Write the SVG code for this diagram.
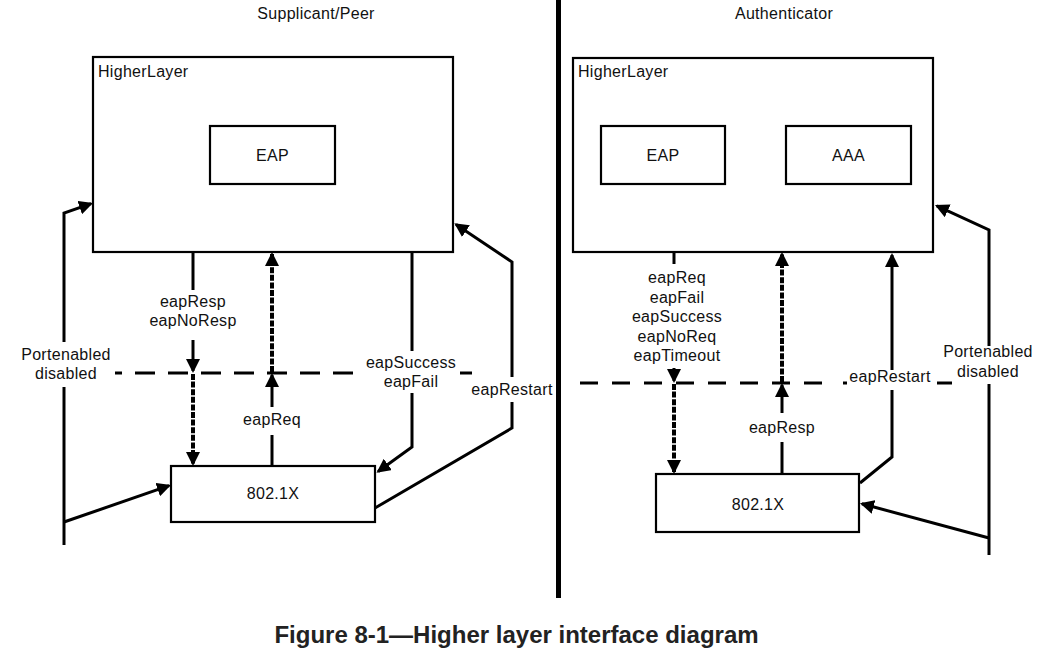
<svg xmlns="http://www.w3.org/2000/svg" width="1046" height="661" viewBox="0 0 1046 661">
<style>
.box{fill:#fff;stroke:#000;stroke-width:2.2}
.t{font-family:"Liberation Sans",Arial,sans-serif;font-size:16px;fill:#111;letter-spacing:0.3px}
.m{text-anchor:middle}
.ln{fill:none;stroke:#000;stroke-width:3}
.dot{fill:none;stroke:#000;stroke-width:4;stroke-dasharray:6 1.6}
.dash{fill:none;stroke:#000;stroke-width:3}
.cap{font-family:"Liberation Sans",Arial,sans-serif;font-size:24px;font-weight:bold;fill:#222;text-anchor:middle}
</style>
<defs>
<marker id="ah" viewBox="0 0 14 14" refX="12" refY="7" markerWidth="14" markerHeight="14" markerUnits="userSpaceOnUse" orient="auto">
<path d="M0,0 L14,7 L0,14 z" fill="#000"/>
</marker>
</defs>
<rect width="1046" height="661" fill="#fff"/>

<text class="t m" x="316" y="19">Supplicant/Peer</text>
<text class="t m" x="784" y="19">Authenticator</text>
<rect id="divider" x="556" y="0" width="5" height="598" fill="#000"/>

<g id="sup-higherlayer">
<rect class="box" x="93" y="57" width="360" height="195"/>
<text class="t" x="98" y="77">HigherLayer</text>
</g>
<g id="sup-eap">
<rect class="box" x="210" y="126" width="125" height="58"/>
<text class="t m" x="272.5" y="161">EAP</text>
</g>
<g id="sup-8021x">
<rect class="box" x="171" y="466" width="204" height="56"/>
<text class="t m" x="273" y="499">802.1X</text>
</g>

<g id="auth-higherlayer">
<rect class="box" x="573" y="58" width="360" height="194"/>
<text class="t" x="578" y="77">HigherLayer</text>
</g>
<g id="auth-eap">
<rect class="box" x="601" y="126" width="124" height="58"/>
<text class="t m" x="663" y="161">EAP</text>
</g>
<g id="auth-aaa">
<rect class="box" x="786" y="126" width="125" height="58"/>
<text class="t m" x="848.5" y="161">AAA</text>
</g>
<g id="auth-8021x">
<rect class="box" x="656" y="474" width="203" height="58"/>
<text class="t m" x="758" y="510">802.1X</text>
</g>

<g id="connectors">
<!-- left dashed boundary -->
<path class="dash" d="M115,373 H358" stroke-dasharray="20 13" stroke-dashoffset="13"/>
<path class="dash" d="M460,373 H472"/>
<!-- right dashed boundary -->
<path class="dash" d="M580,383 H822" stroke-dasharray="18 14"/>
<path class="dash" d="M843,383 H847"/>
<path class="dash" d="M937,383 H952"/>

<!-- supplicant Portenabled -->
<path class="ln" d="M64,545 V387"/>
<path class="ln" d="M64,342 V213 L91.1,203.7" marker-end="url(#ah)"/>
<path class="ln" d="M64,522 L169.1,485.7" marker-end="url(#ah)"/>
<!-- eapResp/eapNoResp -->
<path class="ln" d="M193,252 V290"/>
<path class="ln" d="M193,340 V371" marker-end="url(#ah)"/>
<path class="dot" d="M193,374 V464" marker-end="url(#ah)"/>
<!-- eapReq -->
<path class="ln" d="M272,466 V435"/>
<path class="ln" d="M272,407 V375" marker-end="url(#ah)"/>
<path class="dot" d="M272,372 V254" marker-end="url(#ah)"/>
<!-- eapSuccess/eapFail -->
<path class="ln" d="M412,252 V351"/>
<path class="ln" d="M412,393 V447 L378.1,471.5" marker-end="url(#ah)"/>
<!-- eapRestart -->
<path class="ln" d="M375,508 L512,428 V402"/>
<path class="ln" d="M512,377 V262 L456,224.4" marker-end="url(#ah)"/>

<!-- authenticator eapReq etc -->
<path class="ln" d="M674,252 V264"/>
<path class="ln" d="M674,368 V381" marker-end="url(#ah)"/>
<path class="dot" d="M674,384 V472" marker-end="url(#ah)"/>
<!-- eapResp -->
<path class="ln" d="M782,474 V442"/>
<path class="ln" d="M782,413 V385" marker-end="url(#ah)"/>
<path class="dot" d="M782,382 V254" marker-end="url(#ah)"/>
<!-- eapRestart -->
<path class="ln" d="M860,483 L892,457 V390"/>
<path class="ln" d="M892,370 V255" marker-end="url(#ah)"/>
<!-- Portenabled -->
<path class="ln" d="M989,555 V384"/>
<path class="ln" d="M989,346 V230 L936.8,205.8" marker-end="url(#ah)"/>
<path class="ln" d="M989,538 L861.9,503.8" marker-end="url(#ah)"/>
</g>

<g id="labels">
<text class="t m" x="193" y="307">eapResp</text>
<text class="t m" x="193" y="326">eapNoResp</text>
<text class="t m" x="66" y="360">Portenabled</text>
<text class="t m" x="66" y="379">disabled</text>
<text class="t m" x="272" y="425">eapReq</text>
<text class="t m" x="411" y="368">eapSuccess</text>
<text class="t m" x="411" y="387">eapFail</text>
<text class="t m" x="512" y="395">eapRestart</text>
<text class="t m" x="677" y="283">eapReq</text>
<text class="t m" x="677" y="303">eapFail</text>
<text class="t m" x="677" y="322">eapSuccess</text>
<text class="t m" x="677" y="342">eapNoReq</text>
<text class="t m" x="677" y="361">eapTimeout</text>
<text class="t m" x="782" y="433">eapResp</text>
<text class="t m" x="890" y="382">eapRestart</text>
<text class="t m" x="988" y="357">Portenabled</text>
<text class="t m" x="988" y="377">disabled</text>
</g>

<text class="cap" x="516.5" y="643">Figure 8-1—Higher layer interface diagram</text>
</svg>
